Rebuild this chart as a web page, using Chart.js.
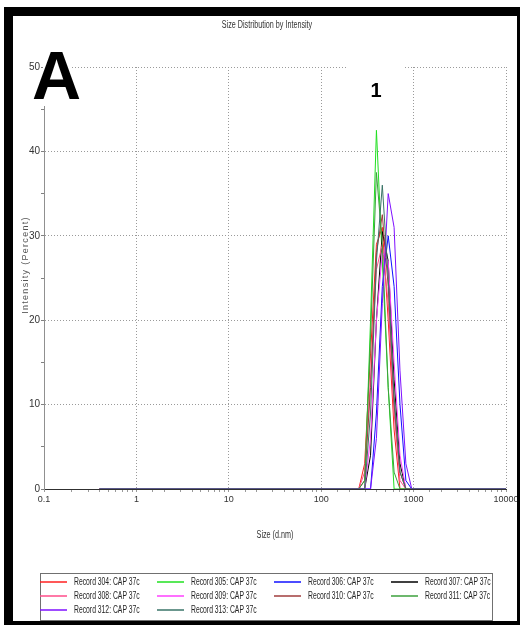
<!DOCTYPE html>
<html>
<head>
<meta charset="utf-8">
<script src="https://cdn.jsdelivr.net/npm/chart.js@4.4.1/dist/chart.umd.min.js"></script>
<style>
  html, body { margin: 0; padding: 0; background: #fff; }
  canvas { display: block; }
</style>
</head>
<body>
<canvas id="sizeChart" width="521" height="626"></canvas>
<script>
// size bins (d.nm)
var sizes = [0.4, 220.2, 255.0, 295.3, 342.0, 396.1, 458.7, 531.2, 615.1, 712.4, 825.0, 955.4, 1106, 10000];

var labels = [
    'Record 304: CAP 37c', 'Record 305: CAP 37c', 'Record 306: CAP 37c', 'Record 307: CAP 37c',
    'Record 308: CAP 37c', 'Record 309: CAP 37c', 'Record 310: CAP 37c', 'Record 311: CAP 37c',
    'Record 312: CAP 37c', 'Record 313: CAP 37c'
];
var colors = ['#ff2020', '#20e020', '#1010ff', '#000000', '#ff4d8a', '#ff40ff', '#a03c3c', '#3ca03c', '#7f10ff', '#3a7468'];

// intensity (%) per record, one value per size bin
var rec304 = [0, 0, 0, 3, 16, 29, 31, 20, 7, 0, 0, 0, 0, 0];
var rec305 = [0, 0, 0, 0, 20, 42.5, 27, 12, 0, 0, 0, 0, 0, 0];
var rec306 = [0, 0, 0, 0, 0, 9, 24, 30, 24, 10, 1, 0, 0, 0];
var rec307 = [0, 0, 0, 0, 4, 20, 30.5, 27, 13, 3, 0, 0, 0, 0];
var rec308 = [0, 0, 0, 2, 13, 26, 29, 22, 9, 1, 0, 0, 0, 0];
var rec309 = [0, 0, 0, 0, 6, 20, 28, 27, 15, 4, 0, 0, 0, 0];
var rec310 = [0, 0, 0, 1, 12, 28, 32.5, 24, 10, 2, 0, 0, 0, 0];
var rec311 = [0, 0, 0, 1, 18, 37.5, 29, 12, 2, 0, 0, 0, 0, 0];
var rec312 = [0, 0, 0, 0, 0, 6, 22, 35, 31, 14, 3, 0, 0, 0];
var rec313 = [0, 0, 0, 0, 9, 27, 36, 25, 11, 2, 0, 0, 0, 0];
var records = [rec304, rec305, rec306, rec307, rec308, rec309, rec310, rec311, rec312, rec313];

var xTickLabels = ['0.1', '1', '10', '100', '1000', '10000'];
var yTickLabels = ['0', '10', '20', '30', '40', '50'];

var chartTitle = 'Size Distribution by Intensity';
var xTitle = 'Size (d.nm)';
var yTitle = 'Intensity (Percent)';

var FONT = '"Liberation Sans", Arial, sans-serif';

function isDecade(v) {
    var l = Math.log10(v);
    return Math.abs(l - Math.round(l)) < 1e-6;
}

// narrow text like the original export
function narrowText(c, text, x, y, size, sx, align, color) {
    c.save();
    c.translate(x, y);
    c.scale(sx, 1);
    c.font = size + 'px ' + FONT;
    c.fillStyle = color;
    c.textAlign = align;
    c.textBaseline = 'middle';
    c.fillText(text, 0, 0);
    c.restore();
}

var decor = {
    id: 'decor',
    beforeDraw: function (chart) {
        var c = chart.ctx;
        c.save();
        c.fillStyle = '#fff';
        c.fillRect(0, 0, chart.width, chart.height);
        c.restore();
    },
    afterDraw: function (chart) {
        var c = chart.ctx;
        c.save();

        // titles
        narrowText(c, chartTitle, 267, 25, 10, 0.72, 'center', '#333');
        narrowText(c, xTitle, 275, 535, 10, 0.72, 'center', '#333');
        c.save();
        c.translate(26, 265);
        c.rotate(-Math.PI / 2);
        c.font = '9px ' + FONT;
        c.letterSpacing = '1.3px';
        c.fillStyle = '#555';
        c.textAlign = 'center';
        c.textBaseline = 'middle';
        c.fillText(yTitle, 0, 0);
        c.restore();

        // panel marks
        c.fillStyle = '#fff';
        c.fillRect(43, 55, 29, 51);
        c.fillRect(348, 60, 57, 45);
        c.fillStyle = '#000';
        c.textBaseline = 'alphabetic';
        c.textAlign = 'left';
        c.font = 'bold 68px ' + FONT;
        c.fillText('A', 32, 99);
        c.textAlign = 'center';
        c.font = 'bold 20px ' + FONT;
        c.fillText('1', 376, 97);

        // legend
        c.strokeStyle = '#707070';
        c.lineWidth = 1;
        c.strokeRect(40.5, 573.5, 452, 47);
        chart.data.datasets.forEach(function (ds, i) {
            var x0 = 40 + (i % 4) * 117;
            var y0 = 582 + Math.floor(i / 4) * 14;
            c.strokeStyle = ds.borderColor;
            c.lineWidth = 1.5;
            c.beginPath();
            c.moveTo(x0, y0);
            c.lineTo(x0 + 27, y0);
            c.stroke();
            narrowText(c, ds.label, x0 + 34, y0, 10, 0.68, 'left', '#222');
        });

        // black frame
        c.fillStyle = '#000';
        c.fillRect(4, 7, 516, 9);
        c.fillRect(4, 7, 9, 618);
        c.fillRect(517, 7, 3, 618);
        c.fillRect(4, 621, 516, 4);
        c.restore();
    }
};

var datasets = records.map(function (vals, i) {
    return {
        label: labels[i],
        data: vals.map(function (v, j) { return {x: sizes[j], y: v}; }),
        borderColor: colors[i],
        backgroundColor: colors[i],
        borderWidth: 1,
        pointRadius: 0,
        tension: 0,
        fill: false,
        order: labels.length - i
    };
});

var ctx = document.getElementById('sizeChart').getContext('2d');
var sizeChart = new Chart(ctx, {
    type: 'line',
    data: {datasets: datasets},
    plugins: [decor],
    options: {
        responsive: false,
        animation: false,
        devicePixelRatio: 1,
        layout: {padding: {left: 0, top: 67, right: 15, bottom: 97}},
        plugins: {
            legend: {display: false},
            title: {display: false},
            tooltip: {enabled: false}
        },
        scales: {
            x: {
                type: 'logarithmic',
                min: 0.1,
                max: 10000,
                afterFit: function (s) { s.height = 40; },
                border: {display: true, color: '#303030', width: 1, dash: [1, 2]},
                grid: {
                    color: function (ctx) {
                        var v = ctx.tick ? ctx.tick.value : 0;
                        return (isDecade(v) && v > 0.11) ? '#9a9a9a' : 'rgba(0,0,0,0)';
                    },
                    tickColor: '#9a9a9a',
                    tickLength: 3
                },
                ticks: {
                    autoSkip: false,
                    maxRotation: 0,
                    padding: 2,
                    color: '#333',
                    font: {family: FONT, size: 9},
                    callback: function (v) {
                        if (!isDecade(v)) return '';
                        return xTickLabels[Math.round(Math.log10(v)) + 1];
                    }
                }
            },
            y: {
                min: 0,
                max: 50,
                afterFit: function (s) { s.width = 44; },
                border: {display: true, color: '#909090', width: 1, dash: [1, 2]},
                grid: {
                    color: function (ctx) {
                        var v = ctx.tick ? ctx.tick.value : 0;
                        return (v > 0 && v % 10 === 0) ? '#9a9a9a' : 'rgba(0,0,0,0)';
                    },
                    tickColor: '#808080',
                    tickLength: 3
                },
                ticks: {
                    stepSize: 5,
                    padding: 1,
                    color: '#333',
                    font: {family: FONT, size: 10},
                    callback: function (v) {
                        return v % 10 === 0 ? yTickLabels[v / 10] : '';
                    }
                }
            }
        }
    }
});
</script>
</body>
</html>
